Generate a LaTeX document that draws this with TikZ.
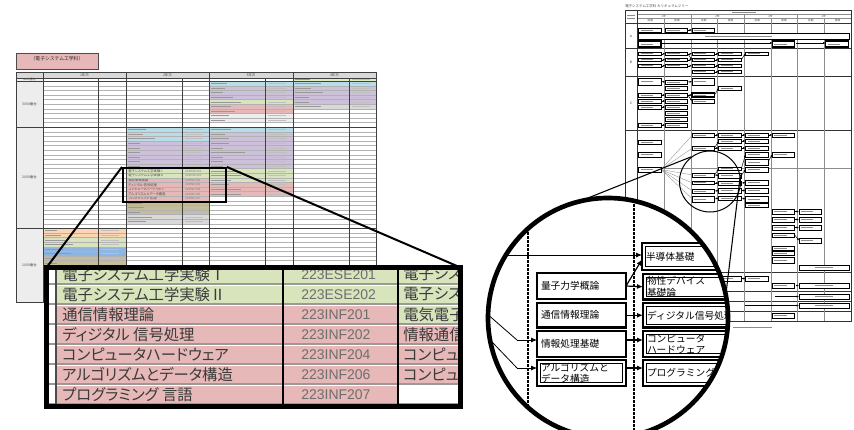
\documentclass[tikz,border=0pt]{standalone}
\usepackage{fontspec}
\newfontfamily\jp{Noto Sans CJK JP}
\newfontfamily\jpp[RawFeature=+palt]{Noto Sans CJK JP}
\newfontfamily\arial{Liberation Sans}
\usetikzlibrary{arrows.meta,fit}
\definecolor{cgreen}{HTML}{D8E4BC}
\definecolor{cpink}{HTML}{E6B8B7}
\definecolor{ccyan}{HTML}{B7DEE8}
\definecolor{cpurple}{HTML}{CCC0DA}
\definecolor{cpeach}{HTML}{FCD5B4}
\definecolor{cblue}{HTML}{8DB4E2}
\definecolor{colive}{HTML}{C4BD97}
\definecolor{cgrey}{HTML}{D9D9D9}
\definecolor{clgrey}{HTML}{EDEDED}
\definecolor{cyg}{HTML}{E4EBC0}
\definecolor{ctxt}{HTML}{3A3A3A}
\definecolor{ccode}{HTML}{6E6E6E}
\tikzset{
  gridl/.style={draw=black!30, line width=0.35pt},
  gridd/.style={draw=black!75, line width=0.6pt},
  tbar/.style={draw=black!40, line width=0.75pt},
  cbar/.style={draw=black!25, line width=0.7pt},
  fgrid/.style={draw=black!45, line width=0.35pt},
  fgridd/.style={draw=black!80, line width=0.5pt},
  fcb/.style={draw=black, line width=0.55pt, fill=white},
  fcbt/.style={draw=black, line width=1pt, fill=white},
  fcbar/.style={draw=black!45, line width=0.6pt},
  farr/.style={draw=black, line width=0.35pt, -{Latex[length=1.8pt,width=1.5pt]}},
  fline/.style={draw=black!40, line width=0.3pt},
  tinyt/.style={inner sep=0pt, text=black!70},
  bigbox/.style={draw=black, line width=1.9pt, fill=white, anchor=north west,
    inner sep=0pt, inner xsep=3pt, outer sep=0pt, align=left,
    font=\jp\fontsize{7.3}{8.5}\selectfont},
  bigarr/.style={draw=black, line width=0.9pt, -{Latex[length=4.5pt,width=3.8pt]}},
  thinarr/.style={draw=black, line width=0.6pt, -{Latex[length=4.5pt,width=3.8pt]}},
  zname/.style={font=\jpp\fontsize{11.5}{12}\selectfont, text=ctxt, inner sep=0pt, anchor=west},
  zcode/.style={font=\arial\fontsize{10.5}{11}\selectfont, text=ccode, inner sep=0pt, anchor=west},
}
\newcommand\trow[6]{%
  \fill[#5] (#1,#4) rectangle (#3,{#4+4.6});
  \draw[tbar] ({#1+2},{#4+2.3}) -- ({#1+2+#6},{#4+2.3});
  \draw[cbar] ({#2+3},{#4+2.3}) -- ({#2+21},{#4+2.3});}
\newcommand\fbx[5]{%
  \draw[#1] (#2,#3) rectangle (#4,#5);
  \draw[fcbar] ({#2+2},{(#3+#5)/2}) -- ({#2+2+0.55*(#4-#2)},{(#3+#5)/2});}
\newcommand\fc[3]{%
  \pgfmathsetmacro\fxa{637+26.75*(#1-1)+1.5}%
  \pgfmathsetmacro\fxb{\fxa+22.5}%
  \fbx{fcb}{\fxa}{#2}{\fxb}{#3}}
\newcommand\fct[3]{%
  \pgfmathsetmacro\fxa{637+26.75*(#1-1)+1.5}%
  \pgfmathsetmacro\fxb{\fxa+22.5}%
  \fbx{fcbt}{\fxa}{#2}{\fxb}{#3}}
\newcommand\fa[3]{%
  \pgfmathsetmacro\fxa{637+26.75*(#1-1)+24}%
  \pgfmathsetmacro\fxb{\fxa+4.25}%
  \draw[farr] (\fxa,#2) -- (\fxb,#3);}
\begin{document}
\begin{tikzpicture}[x=0.75pt,y=-0.75pt]
\useasboundingbox (0,0) rectangle (854,429);
\fill[white] (0,0) rectangle (854,429);

%% ================= LEFT TABLE =================
\node[fit={(16,53)(98,69)}, inner sep=0pt, fill=cpink, draw=black!70, line width=0.6pt,
      font=\jp\fontsize{3.6}{3.6}\selectfont, text=black!85] (ttl) {（電子システム工学科）};

\fill[cgrey] (16,72) rectangle (376,78);
\fill[clgrey] (16,78) rectangle (43,302.1);
\fill[cyg] (293,78) rectangle (376,81.3);
\draw[tbar] (295,79.65) -- (310,79.65);
\draw[cbar] (352,79.65) -- (370,79.65);

% 3000 section, 3rd year
\foreach \c/\l [count=\i from 0] in {ccyan/16,cpurple/14,cpurple/12,cpurple/22,cgreen/30,cpink/20,cpink/24,clgrey/18,clgrey/14}{
  \pgfmathsetmacro\yy{81.3+4.6*\i}\trow{209}{265}{293}{\yy}{\c}{\l}}
% 3000 section, 4th year
\foreach \c/\l [count=\i from 0] in {ccyan/26,cpurple/16,cpurple/28,cpurple/14,cpurple/14,cgrey/26}{
  \pgfmathsetmacro\yy{81.3+4.6*\i}\trow{293}{349}{376}{\yy}{\c}{\l}}
% 2000 section, 2nd year
\foreach \c/\l [count=\i from 0] in {ccyan/18,ccyan/15,ccyan/27,cpurple/12,cpurple/12,cpurple/12,cpurple/12,cpurple/12,cpurple/12}{
  \pgfmathsetmacro\yy{127.3+4.6*\i}\trow{126}{182}{209}{\yy}{\c}{\l}}
\foreach \c/\l [count=\i from 16] in {colive/14,colive/16,colive/12,cgrey/24,cgrey/18}{
  \pgfmathsetmacro\yy{127.3+4.6*\i}\trow{126}{182}{209}{\yy}{\c}{\l}}
\foreach \nm/\cd/\c [count=\i from 9] in {電子システム工学実験Ⅰ/223ESE201/cgreen,電子システム工学実験Ⅱ/223ESE202/cgreen,通信情報理論/223INF201/cpink,ディジタル 信号処理/223INF202/cpink,コンピュータハードウェア/223INF204/cpink,アルゴリズムとデータ構造/223INF206/cpink,プログラミング 言語/223INF207/cpink}{
  \pgfmathsetmacro\yy{127.3+4.6*\i}
  \fill[\c] (126,\yy) rectangle (209,{\yy+4.6});
  \node[tinyt, anchor=west, font=\jpp\fontsize{2.5}{2.5}\selectfont] (tn\i) at (128,{\yy+2.3}) {\nm};
  \node[tinyt, anchor=west, text=black!50, font=\arial\fontsize{2.3}{2.3}\selectfont] (tc\i) at (185,{\yy+2.3}) {\cd};}
% 2000 section, 3rd year
\foreach \c/\l [count=\i from 0] in {ccyan/20,cpurple/14,cpurple/18,cpurple/18,cpurple/12,cpurple/34,cpurple/12,cpurple/12,cpurple/12,cgreen/30,cgreen/30,cgreen/20,cpink/18,cpink/30,cpink/30}{
  \pgfmathsetmacro\yy{127.3+4.6*\i}\trow{209}{265}{293}{\yy}{\c}{\l}}
% 1000 section, 1st year
\foreach \c/\l [count=\i from 0] in {cpeach/12,cpeach/16,cgreen/22,cgreen/28,cblue/18,cblue/26,colive/10,colive/12,colive/12,colive/14}{
  \pgfmathsetmacro\yy{228.5+4.6*\i}\trow{43}{98}{126}{\yy}{\c}{\l}}

% grid
\foreach \k in {1,...,9}{\draw[gridl] (43,{81.3+4.6*\k}) -- (376,{81.3+4.6*\k});}
\foreach \k in {1,...,21}{\draw[gridl] (43,{127.3+4.6*\k}) -- (376,{127.3+4.6*\k});}
\foreach \k in {1,...,15}{\draw[gridl] (43,{228.5+4.6*\k}) -- (376,{228.5+4.6*\k});}
\foreach \yv in {78,81.3,127.3,228.5}{\draw[gridd] (16,\yv) -- (376,\yv);}
\foreach \xv in {43,126,209,293}{\draw[gridd] (\xv,72) -- (\xv,302.1);}
\foreach \xv in {98,182,265,349}{\draw[gridd] (\xv,78) -- (\xv,302.1);}
\draw[gridd] (16,72) rectangle (376,302.1);

\foreach \t/\xc in {1年次/84.5,2年次/167.5,3年次/251,4年次/334.5}{
  \node[tinyt, font=\jp\fontsize{2.6}{2.6}\selectfont] at (\xc,75) {\t};}
\node[tinyt, font=\jp\fontsize{2.2}{2.2}\selectfont] (l4) at (29.5,79.7) {4000番台};
\node[tinyt, font=\jp\fontsize{2.6}{2.6}\selectfont] (l3) at (29.5,104) {3000番台};
\node[tinyt, font=\jp\fontsize{2.6}{2.6}\selectfont] (l2) at (29.5,177) {2000番台};
\node[tinyt, font=\jp\fontsize{2.6}{2.6}\selectfont] (l1) at (29.5,265) {1000番台};

% selection rectangle and connectors
\node[fit={(123,168)(226,202)}, inner sep=0pt, draw=black, line width=1.5pt] (sel) {};
\node[fit={(46.5,267.5)(460.5,406.5)}, inner sep=0pt, outer sep=0pt, fill=white] (zb) {};
\draw[line width=1.5pt] (sel.north west) -- (zb.north west);
\draw[line width=1.5pt] (sel.north east) -- (zb.north east);

% magnified table
\begin{scope}
\clip (46.5,267.5) rectangle (460.5,406.5);
\foreach \nm/\cd/\lc/\cn/\cl [count=\i from 0] in {%
  電子システム工学実験Ⅰ/223ESE201/電子シス/cgreen/cgreen,
  電子システム工学実験Ⅱ/223ESE202/電子シス/cgreen/cgreen,
  通信情報理論/223INF201/電気電子/cpink/cgreen,
  ディジタル 信号処理/223INF202/情報通信/cpink/cpink,
  コンピュータハードウェア/223INF204/コンピュ/cpink/cpink,
  アルゴリズムとデータ構造/223INF206/コンピュ/cpink/cpink,
  プログラミング 言語/223INF207//cpink/white}{
  \pgfmathsetmacro\yy{264+20*\i}
  \fill[\cn] (56,\yy) rectangle (398,{\yy+20});
  \fill[\cl] (398,\yy) rectangle (461,{\yy+20});
  \node[zname] (zn\i) at (62,{\yy+10.3}) {\nm};
  \node[zcode] (zc\i) at (301,{\yy+10.3}) {\cd};
  \node[zname] (zl\i) at (403,{\yy+10.3}) {\lc};}
\foreach \k in {0,...,7}{
  \draw[black!40, line width=0.9pt] (47,{264+20*\k}) -- (461,{264+20*\k});
  \draw[white, line width=0.8pt] (56.8,{265.3+20*\k}) -- (461,{265.3+20*\k});}
\draw[black!70, line width=1.1pt] (56,260) -- (56,410);
\draw[black, line width=2.2pt] (283,260) -- (283,410);
\draw[black, line width=2.2pt] (398,260) -- (398,410);
\end{scope}
\draw[line width=3.75pt] (zb.north west) rectangle (zb.south east);

%% ================= RIGHT FLOWCHART =================
\node[tinyt, anchor=west, font=\jp\fontsize{2.6}{2.6}\selectfont] (ftitle) at (625,6) {電子システム工学科 カリキュラムツリー};
\draw[fgridd] (625,10) rectangle (851,321);
\foreach \yv in {14,18.5}{\draw[fgrid] (637,\yv) -- (851,\yv);}
\foreach \yv in {23,48,76,130,272.5,291.5,301.5,311}{\draw[fgridd] (625,\yv) -- (851,\yv);}
\draw[fgrid] (664,168) -- (851,168);
\draw[fgridd] (637,10) -- (637,321);
\foreach \xv in {691,744,797}{\draw[fgrid] (\xv,14) -- (\xv,321);}
\foreach \xv in {664,717,771,824}{\draw[fgrid] (\xv,18.5) -- (\xv,321);}
\draw[fcbar] (732,12) -- (756,12);
\draw[fcbar] (627,15) -- (635,15);
\draw[fcbar] (627,18) -- (635,18);
\foreach \t/\xc in {1年/664,2年/717.5,3年/770.5,4年/824}{
  \node[tinyt, font=\jp\fontsize{2}{2}\selectfont] at (\xc,16.3) {\t};}
\foreach \k in {0,...,3}{
  \node[tinyt, font=\jp\fontsize{2}{2}\selectfont] at ({650.4+53.5*\k},20.8) {前期};
  \node[tinyt, font=\jp\fontsize{2}{2}\selectfont] at ({677.1+53.5*\k},20.8) {後期};}
\node[tinyt, font=\arial\fontsize{2.6}{2.6}\selectfont] (ra) at (631,36) {A};
\node[tinyt, font=\arial\fontsize{2.6}{2.6}\selectfont] (rb) at (631,62) {B};
\node[tinyt, font=\arial\fontsize{2.6}{2.6}\selectfont] (rc) at (631,103) {C};
\draw[fcbar] (733,327.5) -- (772,327.5);

% Row A
\fc{1}{28}{32}\fc{2}{28}{32}\fc{3}{28}{32}
\fa{2}{30}{30}
\draw[fcb] (638.5,33) rectangle (849.5,39);
\draw[fcbar] (705,36) -- (772,36);
\draw[farr] (661,43) -- (772.5,43);
\draw[farr] (796,43) -- (825.5,43);
\fct{1}{41}{47}\fct{6}{41}{47}\fct{8}{41}{47}

% Row B
\foreach \y in {52,58,64}{\fc{1}{\y}{\y+3.5}\fc{2}{\y}{\y+3.5}\fc{3}{\y}{\y+3.5}\fc{4}{\y}{\y+3.5}
  \fa{1}{\y+1.75}{\y+1.75}\fa{2}{\y+1.75}{\y+1.75}\fa{3}{\y+1.75}{\y+1.75}}
\fc{3}{70}{73.5}\fc{4}{70}{73.5}\fa{3}{71.75}{71.75}
\fc{5}{52}{55.5}\fa{4}{59.75}{53.75}\fa{2}{53.75}{59.75}

% Row C
\fc{1}{78}{85}\fc{1}{93}{97}\fc{1}{99}{103}\fc{1}{105}{109}\fc{1}{123}{127}
\foreach \y in {80,86,93,99,105,111,117,123}{\fc{2}{\y}{\y+4}}
\fc{3}{78}{85}\fct{3}{93}{97}\fc{3}{99}{103}\fc{4}{86}{90}
\fa{1}{81.5}{82}\fa{2}{82}{81.5}\fa{1}{95}{95}\fa{1}{101}{101}\fa{1}{107}{107}\fa{1}{125}{125}
\fa{2}{95}{95}\fa{2}{95}{101}\fa{3}{95}{88}

% Row D
\foreach \y in {135,148,175,183,191,199}{\draw[fline] (661,169.5) -- (692.5,\y);}
\fc{1}{140}{144}\fc{1}{152}{157}\fc{1}{167}{172}
\foreach \a/\b in {133/137,146/150,173/177,181/184.5,189/193,196/202}{\fc{3}{\a}{\b}}
\foreach \a/\b in {133/137,139/143,146/150,167/170.5,173/178,181/185,188/193,196/200}{\fc{4}{\a}{\b}}
\foreach \a/\b in {133/137,139/143,146/150,152/157,159/165,167/172,180/185,188/193,196/202,203/207}{\fc{5}{\a}{\b}}
\foreach \a/\b in {133/137,152/157,209/214,217/222,225/230,233/237,246/250,251/255,257/263}{\fc{6}{\a}{\b}}
\foreach \a/\b in {209/214,217/222,225/230,238/243}{\fc{7}{\a}{\b}}
\draw[fcb] (799,265) rectangle (849,270);
\draw[fcbar] (815,267.5) -- (833,267.5);
\fa{3}{135}{135}\fa{3}{148}{141}\fa{3}{148}{148}\fa{3}{175}{169}\fa{3}{175}{175.5}
\fa{3}{183}{183}\fa{3}{191}{190.5}\fa{3}{199}{198}
\fa{4}{135}{135}\fa{4}{141}{141}\fa{4}{148}{148}\fa{4}{169}{154.5}\fa{4}{175.5}{169.5}
\fa{4}{183}{182.5}\fa{4}{190.5}{190.5}\fa{4}{198}{199}
\fa{5}{135}{135}\fa{5}{162}{154.5}
\fa{6}{211.5}{211.5}\fa{6}{219.5}{219.5}\fa{6}{227.5}{227.5}\fa{6}{235}{240.5}

% Rows E-H
\fc{4}{276}{281}\fc{5}{276}{281}\fa{4}{278.5}{278.5}
\fc{6}{283}{288}
\draw[fcb] (799,283) rectangle (849,288);
\draw[fcbar] (815,285.5) -- (833,285.5);
\draw[farr] (795.5,285.5) -- (799,285.5);
\draw[fcb] (799,294) rectangle (849,299);
\draw[fcbar] (815,296.5) -- (833,296.5);
\draw[farr] (775,296.5) -- (799,296.5);
\draw[fcb] (799,303) rectangle (849,308);
\draw[fcbar] (815,305.5) -- (833,305.5);
\draw[farr] (745,305.5) -- (799,305.5);
\fc{6}{313}{318}

%% ================= MAGNIFIER =================
\node[circle, draw=black, line width=0.75pt, minimum size=45.75pt, inner sep=0pt] (sc) at (710,181.5) {};
\node[circle, fill=white, minimum size=180pt, inner sep=0pt, outer sep=0pt] (bc) at (608,318) {};
\draw[line width=0.8pt] (sc.127) -- (bc.104.5);
\draw[line width=0.8pt] (sc.12) -- (bc.11);

\begin{scope}
\clip (bc.center) circle [radius=90pt];
\draw[line width=0.9pt, dash pattern=on 2pt off 1pt] (528,180) -- (528,440);
\draw[line width=0.9pt, dash pattern=on 2pt off 1pt] (634,180) -- (634,440);

\node[bigbox, minimum width=60pt, minimum height=20.25pt, text width=54pt] (hd) at (642,243) {半導体基礎};
\node[bigbox, minimum width=66.75pt, minimum height=19.5pt, text width=60.75pt] (qm) at (537,273) {量子力学概論};
\node[bigbox, minimum width=75pt, minimum height=19.1pt, text width=69pt] (bs) at (643,274) {物性デバイス\\基礎論};
\node[bigbox, minimum width=66.75pt, minimum height=18.4pt, text width=60.75pt] (tj) at (537,303) {通信情報理論};
\node[bigbox, minimum width=82.5pt, minimum height=18.4pt, text width=76.5pt] (dsp) at (643,303) {ディジタル信号処理};
\node[bigbox, minimum width=66.75pt, minimum height=19.5pt, text width=60.75pt] (jo) at (537,331) {情報処理基礎};
\node[bigbox, minimum width=75pt, minimum height=19.5pt, text width=69pt] (ch) at (643,331) {コンピュータ\\ハードウェア};
\node[bigbox, minimum width=66.75pt, minimum height=19.5pt, text width=60.75pt] (al) at (537,360) {アルゴリズムと\\データ構造};
\node[bigbox, minimum width=82.5pt, minimum height=19.5pt, text width=76.5pt] (pl) at (643,360) {プログラミング言語};
\foreach \n in {hd,bs,dsp,ch,al,pl}{
  \draw[line width=0.7pt] ([shift={(3.5,3.5)}]\n.north west) rectangle ([shift={(-3.5,-3.5)}]\n.south east);}

\coordinate (hin) at (470,255);
\coordinate (fa1) at (470,299);
\coordinate (fb1) at (517,340);
\coordinate (fa2) at (470,319);
\coordinate (fb2) at (517,368);
\draw[thinarr] (hin) -- ([shift={(0,-1.5)}]hd.west);
\draw[line width=0.6pt] (fa1) -- (fb1);
\draw[line width=0.6pt] (fa2) -- (fb2);
\draw[thinarr] (fb1) -- ([shift={(0,-4)}]jo.west);
\draw[thinarr] (fb2) -- ([shift={(0,-5)}]al.west);
\draw[bigarr] (qm.east) -- ([shift={(0,3)}]hd.west);
\draw[bigarr] (qm.east) -- (bs.west);
\draw[bigarr] (tj.east) -- (dsp.west);
\draw[bigarr] ([shift={(0,-4)}]jo.east) -- ([shift={(0,-4)}]ch.west);
\draw[bigarr] ([shift={(0,-5)}]al.east) -- ([shift={(0,-5)}]pl.west);
\end{scope}
\draw[line width=3.5pt] (bc.center) circle [radius=90pt];
\end{tikzpicture}
\end{document}
